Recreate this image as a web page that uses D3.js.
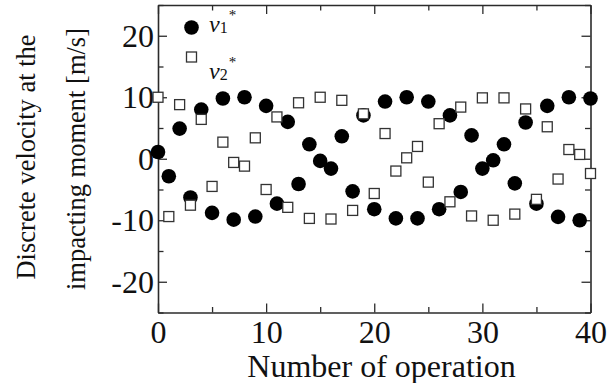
<!DOCTYPE html>
<html>
<head>
<meta charset="utf-8">
<script src="https://cdn.jsdelivr.net/npm/d3@7/dist/d3.min.js"></script>
<style>
  html, body { margin: 0; padding: 0; background: #fff; }
  svg { display: block; }
  text { font-family: "Liberation Serif", "Times New Roman", serif; fill: #111; }
</style>
</head>
<body>
<svg id="chart" width="608" height="383"></svg>
<script>
// Operation index for each impact
const operations = [0,1,2,3,4,5,6,7,8,9,10,11,12,13,14,15,16,17,18,19,20,
                    21,22,23,24,25,26,27,28,29,30,31,32,33,34,35,36,37,38,39,40];

// Discrete velocity v1* at each impacting moment [m/s]
const v1 = [1.1,-2.85,4.9,-6.3,8.0,-8.8,9.8,-9.9,10.0,-9.4,8.6,-7.3,6.0,-4.1,2.35,
            -0.35,-1.6,3.65,-5.3,7.05,-8.2,9.3,-9.7,10.0,-9.7,9.3,-8.2,7.05,-5.4,3.8,
            -1.6,-0.25,2.35,-4.0,5.9,-7.3,8.6,-9.45,10.0,-10.0,9.8];

// Discrete velocity v2* at each impacting moment [m/s]
const v2 = [10.0,-9.4,8.8,-7.55,6.4,-4.5,2.7,-0.6,-1.2,3.4,-5.0,6.8,-7.9,9.1,-9.7,
            10.0,-9.8,9.5,-8.4,7.3,-5.65,4.1,-2.0,0.15,2.0,-3.8,5.7,-7.0,8.4,-9.3,
            9.9,-10.0,9.9,-9.0,8.1,-6.6,5.2,-3.3,1.5,0.7,-2.4];

const xTicks = [0,5,10,15,20,25,30,35,40];
const yTicks = [-25,-20,-15,-10,-5,0,5,10,15,20,25];
const yTickLabels = {"20":"20","10":"10","0":"0","-10":"-10","-20":"-20"};

const xTitle = "Number of operation";
const yTitleLines = ["Discrete velocity at the", "impacting moment [m/s]"];

const svg = d3.select("#chart");
const plotLeft = 158, plotRight = 590.5, plotTop = 5, plotBottom = 312.5;
const axisColor = "#2b2b2b";

const x = d3.scaleLinear().domain([0, 40]).range([plotLeft, plotRight]);
const y = d3.scaleLinear().domain([-25, 25]).range([plotBottom, plotTop]);

const isMajor = v => v % 10 === 0;

function styleAxis(g) {
  g.select(".domain").attr("stroke", axisColor).attr("stroke-width", 1.6);
  g.selectAll(".tick line").attr("stroke", axisColor).attr("stroke-width", 1.3);
  g.selectAll(".tick text")
    .attr("font-family", "'Liberation Serif', 'Times New Roman', serif")
    .attr("font-size", 32).attr("fill", "#111");
}

// bottom axis with labels
const gx = svg.append("g").attr("transform", `translate(0,${plotBottom})`)
  .call(d3.axisBottom(x).tickValues(xTicks).tickSizeInner(-9).tickSizeOuter(0)
    .tickPadding(8).tickFormat(v => isMajor(v) ? String(v) : ""));
gx.selectAll(".tick line").attr("y2", d => isMajor(d) ? -9 : -5.5);
styleAxis(gx);
gx.selectAll(".tick text").attr("dy", "0.71em");

// top axis, ticks only
const gt = svg.append("g").attr("transform", `translate(0,${plotTop})`)
  .call(d3.axisTop(x).tickValues(xTicks).tickSizeInner(-9).tickSizeOuter(0).tickFormat(""));
gt.selectAll(".tick line").attr("y2", d => isMajor(d) ? 9 : 5.5);
styleAxis(gt);

// left axis with labels
const gy = svg.append("g").attr("transform", `translate(${plotLeft},0)`)
  .call(d3.axisLeft(y).tickValues(yTicks).tickSizeInner(-9).tickSizeOuter(0)
    .tickPadding(4).tickFormat(v => yTickLabels[String(v)] || ""));
gy.selectAll(".tick line").attr("x2", d => isMajor(d) ? 9 : 5.5);
styleAxis(gy);

// right axis, ticks only
const gr = svg.append("g").attr("transform", `translate(${plotRight},0)`)
  .call(d3.axisRight(y).tickValues(yTicks).tickSizeInner(-9).tickSizeOuter(0).tickFormat(""));
gr.selectAll(".tick line").attr("x2", d => isMajor(d) ? -9 : -5.5);
styleAxis(gr);

// axis titles
svg.append("text")
  .attr("x", 381.5).attr("y", 376.5)
  .attr("text-anchor", "middle").attr("font-size", 32)
  .text(xTitle);

svg.append("text")
  .attr("transform", "translate(35,157) rotate(-90)")
  .attr("text-anchor", "middle").attr("font-size", 26.5)
  .text(yTitleLines[0]);
svg.append("text")
  .attr("transform", "translate(84.5,159) rotate(-90)")
  .attr("text-anchor", "middle").attr("font-size", 26.5)
  .text(yTitleLines[1]);

// v1* markers: filled circles
svg.append("g").selectAll("circle")
  .data(operations)
  .join("circle")
  .attr("cx", (d) => x(d))
  .attr("cy", (d, i) => y(v1[i]))
  .attr("r", 7.3)
  .attr("fill", "#000");

// v2* markers: open squares drawn above the circles
const sq = 10;
svg.append("g").selectAll("rect")
  .data(operations)
  .join("rect")
  .attr("x", (d) => x(d) - sq / 2)
  .attr("y", (d, i) => y(v2[i]) - sq / 2)
  .attr("width", sq).attr("height", sq)
  .attr("fill", "#fff")
  .attr("stroke", "#333")
  .attr("stroke-width", 1.3);

// legend
const legend = svg.append("g");
legend.append("circle").attr("cx", 191.5).attr("cy", 27.5).attr("r", 7.3).attr("fill", "#000");
legend.append("rect").attr("x", 191.5 - sq / 2).attr("y", 57 - sq / 2)
  .attr("width", sq).attr("height", sq)
  .attr("fill", "#fff").attr("stroke", "#333").attr("stroke-width", 1.3);

function legendLabel(xPos, yPos, sub) {
  const t = legend.append("text").attr("x", xPos).attr("y", yPos);
  t.append("tspan").attr("font-style", "italic").attr("font-size", 24).text("v");
  t.append("tspan").attr("font-size", 16).attr("dy", 1).text(sub);
  t.append("tspan").attr("font-size", 15).attr("dx", 1).attr("dy", -13).text("*");
}
legendLabel(209, 32, "1");
legendLabel(209, 79, "2");
</script>
</body>
</html>
